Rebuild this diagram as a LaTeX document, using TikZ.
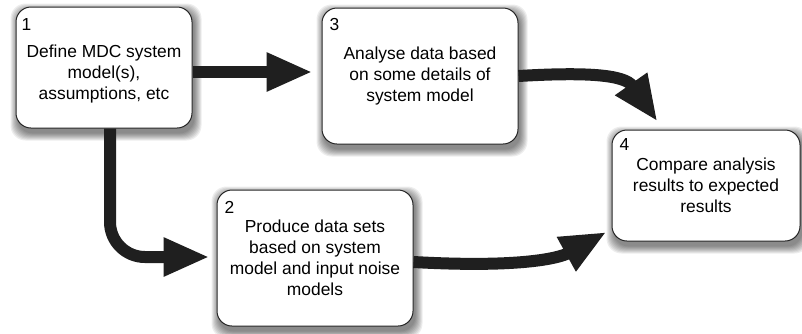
\documentclass[tikz,border=0pt]{standalone}
\usepackage{fontspec}
\setmainfont{Liberation Sans}
\usetikzlibrary{arrows.meta,calc,backgrounds}
\begin{document}
\begin{tikzpicture}[x=1pt,y=-1pt,
  box/.style={draw=black!85, line width=1pt, fill=white, rounded corners=15pt, inner sep=0pt},
  txt/.style={align=center, font=\fontsize{17.4}{21}\selectfont, inner sep=0pt},
  num/.style={font=\fontsize{17.4}{21}\selectfont, inner sep=0pt},
  arr/.style={line width=12pt, draw=black!88, -{Triangle[length=46pt,width=36pt]}},
]
\useasboundingbox (0,0) rectangle (802,333);
% boxes
\node[box, minimum width=176pt, minimum height=121pt] (b1) at (104,67.5) {};
\node[box, minimum width=196pt, minimum height=136pt] (b3) at (420,76) {};
\node[box, minimum width=196pt, minimum height=136pt] (b2) at (315,258) {};
\node[box, minimum width=188pt, minimum height=111pt] (b4) at (706,185.5) {};
% shadows and background
\begin{scope}[on background layer]
  \fill[white] (0,0) rectangle (802,333);
  \foreach \n in {b1,b2,b3,b4}{
    \foreach \s in {0,1,...,7}{
      \fill[black, opacity=0.07, rounded corners=15pt]
        ($(\n.north west)+(2-\s,4-\s)$) rectangle ($(\n.south east)+(2+\s,5+\s)$);
    }
  }
\end{scope}
% numbers
\node[num] (n1) at ($(b1.north west)+(11,18)$) {1};
\node[num] (n3) at ($(b3.north west)+(13,17)$) {3};
\node[num] (n2) at ($(b2.north west)+(13,18)$) {2};
\node[num] (n4) at ($(b4.north west)+(13,15)$) {4};
% texts
\node[txt] (t1) at ($(b1.center)+(0,6.5)$) {Define MDC system\\model(s),\\assumptions, etc};
\node[txt] (t3) at (b3.center) {Analyse data based\\on some details of\\system model};
\node[txt] (t2) at (b2.center) {Produce data sets\\based on system\\model and input noise\\models};
\node[txt] (t4) at (b4.center) {Compare analysis\\results to expected\\results};
% arrows
\draw[arr] ($(b1.east)+(0,4.5)$) -- ($(b3.west)+(-9,-4)$);
\draw[arr, rounded corners=35pt] ($(b1.south)+(6,0)$) |- ($(b2.west)+(-7,-1)$);
\draw[arr] ($(b2.east)+(0,4)$) .. controls +(107,6) and +(-47,26) .. ($(b4.west)+(-5,46.5)$);
\draw[arr] (b3.east) .. controls +(67,-4) and +(-33,-47) .. ($(b4.north west)+(46,-8)$);
\end{tikzpicture}
\end{document}
